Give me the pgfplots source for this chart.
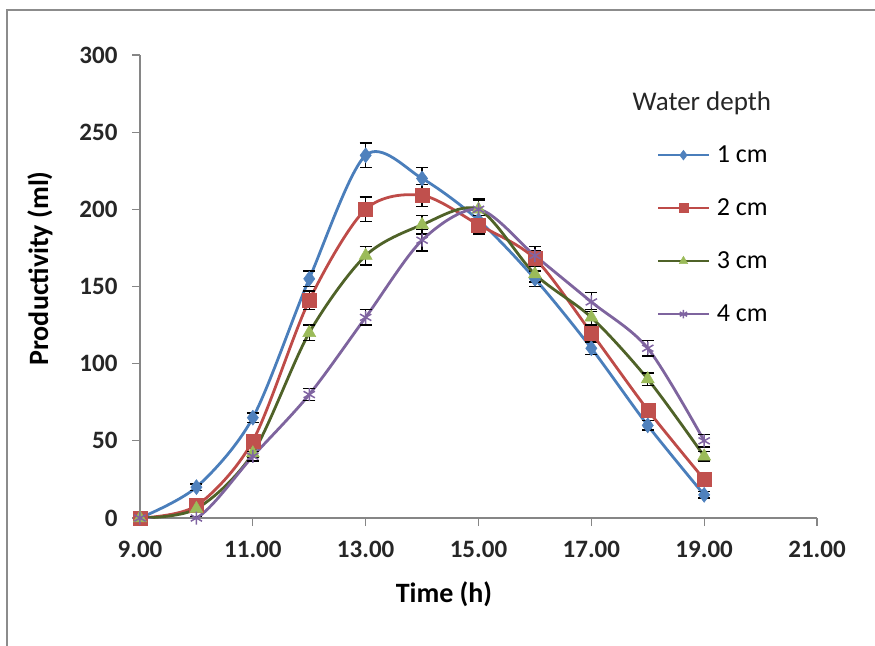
\documentclass[border=0pt]{standalone}
\usepackage{pgfplots}
\pgfplotsset{compat=1.18}
\usepackage{fontspec}
\setmainfont{Carlito}
\definecolor{c1l}{HTML}{4A7EBB}\definecolor{c1m}{HTML}{4F81BD}
\definecolor{c2l}{HTML}{BE4B48}\definecolor{c2m}{HTML}{C0504D}
\definecolor{c3l}{HTML}{4F6228}\definecolor{c3m}{HTML}{9BBB59}
\definecolor{c4l}{HTML}{7E649E}\definecolor{c4m}{HTML}{8064A2}
\definecolor{axgray}{HTML}{868686}
\begin{document}
\begin{tikzpicture}[x=1pt,y=1pt]
\path[use as bounding box] (-140,-127) rectangle (735,518);
\draw[black!45, line width=1.2pt] (-133,-200) rectangle (800,508);
\begin{axis}[
  at={(0,0)}, anchor=origin,
  scale only axis, width=677pt, height=463pt,
  xmin=9, xmax=21, ymin=0, ymax=300,
  axis lines=left, axis line style={axgray, -, line width=1.2pt},
  xtick={9,11,...,21}, ytick={0,50,...,300},
  tick align=outside, tick style={axgray, line width=1.2pt}, major tick length=8pt,
  /pgf/number format/assume math mode=true,
  xticklabel style={/pgf/number format/.cd, fixed, fixed zerofill, precision=2, /tikz/.cd, yshift=-12pt},
  yticklabel style={/pgf/number format/.cd, fixed, precision=0, /tikz/.cd, xshift=-11pt},
  ticklabel style={font=\bfseries\fontsize{25}{28}\selectfont, text=black!85},
  xlabel={Time (h)}, ylabel={Productivity (ml)},
  xlabel style={font=\bfseries\fontsize{28}{32}\selectfont, at={(axis description cs:0.449,-0.164)}, anchor=center},
  ylabel style={font=\bfseries\fontsize{28}{32}\selectfont, at={(axis description cs:-0.1477,0.539)}, anchor=center},
  legend style={at={(axis cs:18.163,252.4)}, anchor=north west, draw=none, fill=none,
    font=\fontsize{26}{30}\selectfont, row sep=0pt, column sep=7pt, inner sep=0pt,
    nodes={minimum height=53pt, inner sep=0pt}},
  legend cell align=left,
  legend image code/.code={\draw[mark repeat=2,mark phase=2] plot coordinates {(0pt,0pt) (25pt,0pt) (50pt,0pt)};},
  legend image post style={line width=2.6pt, every mark/.append style={scale=0.65}},
  every axis plot/.append style={line width=2.8pt, smooth, tension=0.5},
  error bars/error bar style={black, line width=1.3pt},
  error bars/error mark options={black, rotate=90, mark size=6pt, line width=1.3pt},
]
\addplot[c1l, mark=diamond*, mark size=7.5pt, mark options={c1m, fill=c1m, solid, line width=0.5pt},
  error bars/.cd, y dir=both, y explicit]
  coordinates {(9,0)+-(0,0) (10,20)+-(0,2) (11,65)+-(0,3) (12,155)+-(0,5) (13,235)+-(0,8) (14,220)+-(0,7) (15,193)+-(0,5) (16,155)+-(0,5) (17,110)+-(0,4) (18,60)+-(0,3) (19,15)+-(0,2)};
\addlegendentry{1 cm}
\addplot[c2l, mark=square*, mark size=7pt, mark options={c2m, fill=c2m, solid, line width=0.5pt},
  error bars/.cd, y dir=both, y explicit]
  coordinates {(9,0)+-(0,0) (10,8)+-(0,2) (11,50)+-(0,3) (12,141)+-(0,6) (13,200)+-(0,8) (14,209)+-(0,7) (15,190)+-(0,6) (16,168)+-(0,5) (17,120)+-(0,5) (18,70)+-(0,4) (19,25)+-(0,2)};
\addlegendentry{2 cm}
\addplot[c3l, mark=triangle*, mark size=7.5pt, mark options={c3m, fill=c3m, solid, line width=0.5pt},
  error bars/.cd, y dir=both, y explicit]
  coordinates {(9,0)+-(0,0) (10,6)+-(0,2) (11,42)+-(0,3) (12,120)+-(0,5) (13,170)+-(0,6) (14,190)+-(0,6) (15,200)+-(0,6) (16,158)+-(0,5) (17,130)+-(0,5) (18,90)+-(0,4) (19,40)+-(0,3)};
\addlegendentry{3 cm}
\addplot[c4l, mark=asterisk, mark size=6.5pt, mark options={c4m, solid, line width=1.5pt},
  error bars/.cd, y dir=both, y explicit]
  coordinates {(9,0)+-(0,0) (10,0)+-(0,1) (11,40)+-(0,3) (12,80)+-(0,4) (13,130)+-(0,5) (14,180)+-(0,7) (15,200)+-(0,7) (16,170)+-(0,6) (17,140)+-(0,6) (18,110)+-(0,5) (19,50)+-(0,4)};
\addlegendentry{4 cm}
\node[anchor=center, font=\fontsize{27}{30}\selectfont, text=black!85] at (axis cs:18.96,268.9) {Water depth};
\end{axis}
\end{tikzpicture}
\end{document}
